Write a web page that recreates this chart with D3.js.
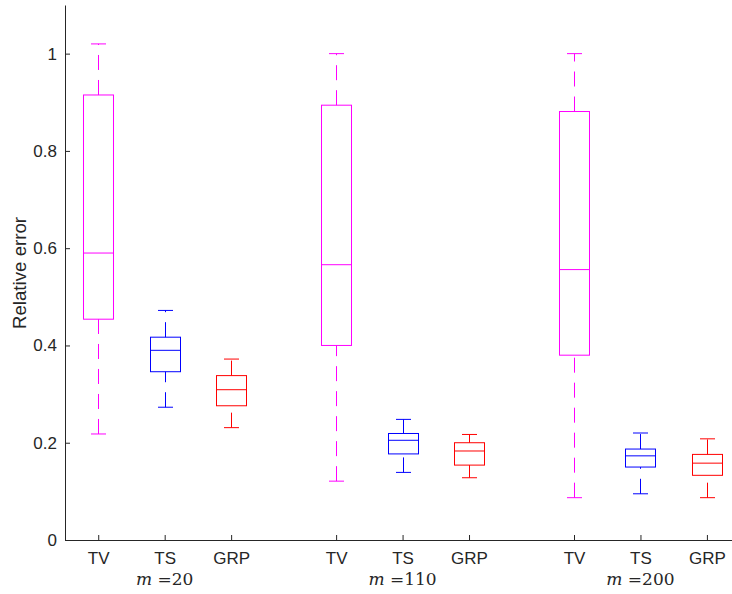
<!DOCTYPE html>
<html>
<head>
<meta charset="utf-8">
<script src="https://cdn.jsdelivr.net/npm/d3@7"></script>
<style>
  html, body { margin: 0; padding: 0; background: #fff; }
  svg { display: block; }
</style>
</head>
<body>
<svg id="chart" width="732" height="594"></svg>
<script>
// ---- data ----
const methods = ["TV", "TS", "GRP"];
const mValues = ["20", "110", "200"];
const positions = [1, 2, 3, 4.58, 5.58, 6.58, 8.16, 9.16, 10.16];
const yTicks = [0, 0.2, 0.4, 0.6, 0.8, 1];

// per method, one value per group (m = 20, 110, 200)
const tvLow  = [0.218, 0.121, 0.087];
const tvQ1   = [0.454, 0.400, 0.380];
const tvMed  = [0.590, 0.566, 0.556];
const tvQ3   = [0.915, 0.894, 0.881];
const tvHigh = [1.020, 1.000, 1.000];

const tsLow  = [0.273, 0.139, 0.095];
const tsQ1   = [0.346, 0.177, 0.150];
const tsMed  = [0.390, 0.205, 0.173];
const tsQ3   = [0.417, 0.219, 0.187];
const tsHigh = [0.472, 0.248, 0.220];

const grpLow  = [0.231, 0.128, 0.087];
const grpQ1   = [0.276, 0.154, 0.133];
const grpMed  = [0.309, 0.183, 0.158];
const grpQ3   = [0.338, 0.200, 0.176];
const grpHigh = [0.372, 0.217, 0.208];

const colors = { TV: "#ff00ff", TS: "#0000ff", GRP: "#ff0000" };

// build table
const series = {
  TV:  { low: tvLow,  q1: tvQ1,  med: tvMed,  q3: tvQ3,  high: tvHigh },
  TS:  { low: tsLow,  q1: tsQ1,  med: tsMed,  q3: tsQ3,  high: tsHigh },
  GRP: { low: grpLow, q1: grpQ1, med: grpMed, q3: grpQ3, high: grpHigh }
};
const boxes = [];
mValues.forEach((m, g) => {
  methods.forEach((k, j) => {
    const s = series[k];
    boxes.push({ method: k, group: g, pos: positions[g * 3 + j],
      low: s.low[g], q1: s.q1[g], med: s.med[g], q3: s.q3[g], high: s.high[g] });
  });
});

// ---- layout ----
const svg = d3.select("#chart");
const mLeft = 65, mBottom = 540, mTop = 5;
const x = d3.scaleLinear().domain([0.5, 11]).range([mLeft, mLeft + 10.5 * 66.45]);
const y = d3.scaleLinear().domain([0, 1.1]).range([mBottom, mTop]);
const axisColor = "#262626";
const tickFont = "'Liberation Sans', Arial, Helvetica, sans-serif";

svg.append("rect").attr("width", 732).attr("height", 594).attr("fill", "#fff");

// y axis
const yAxis = svg.append("g").attr("transform", `translate(${mLeft},0)`)
  .call(d3.axisLeft(y).tickValues(yTicks).tickFormat(d3.format("~g")).tickSizeInner(-5).tickSizeOuter(0).tickPadding(8));
yAxis.select(".domain").attr("stroke", axisColor).attr("stroke-width", 1);
yAxis.selectAll(".tick line").attr("stroke", axisColor);
yAxis.selectAll(".tick text").attr("fill", "#262626").attr("font-size", 17).attr("font-family", tickFont);

// x axis
const xAxis = svg.append("g").attr("transform", `translate(0,${mBottom})`)
  .call(d3.axisBottom(x).tickValues(positions).tickFormat((d, i) => methods[i % 3]).tickSizeInner(-5).tickSizeOuter(0).tickPadding(12));
xAxis.select(".domain").attr("stroke", axisColor).attr("stroke-width", 1);
xAxis.selectAll(".tick line").attr("stroke", axisColor);
xAxis.selectAll(".tick text").attr("fill", "#262626").attr("font-size", 17).attr("font-family", tickFont);

// y label
svg.append("text")
  .attr("transform", `translate(26,273) rotate(-90)`)
  .attr("text-anchor", "middle")
  .attr("font-family", tickFont).attr("font-size", 18.7).attr("fill", "#262626")
  .text("Relative error");

// group labels
mValues.forEach((m, g) => {
  const t = svg.append("text")
    .attr("x", x(positions[g * 3 + 1])).attr("y", 585)
    .attr("text-anchor", "middle")
    .attr("font-family", "'DejaVu Serif', 'Liberation Serif', serif")
    .attr("font-size", 17).attr("fill", "#262626");
  t.append("tspan").attr("font-style", "italic").text("m");
  t.append("tspan").text(" =" + m);
});

// boxes
const halfBox = 15, halfCap = 7.5;
const bx = svg.append("g").attr("fill", "none").attr("stroke-width", 1);
boxes.forEach(b => {
  const c = colors[b.method];
  const cx = Math.round(x(b.pos)) + 0.5;
  const g = bx.append("g").attr("stroke", c);
  // upper whisker q3 -> high
  g.append("line").attr("x1", cx).attr("x2", cx).attr("y1", y(b.q3)).attr("y2", y(b.high))
    .attr("stroke-dasharray", "15,10");
  // lower whisker low -> q1
  g.append("line").attr("x1", cx).attr("x2", cx).attr("y1", y(b.low)).attr("y2", y(b.q1))
    .attr("stroke-dasharray", "15,10");
  // caps
  [b.low, b.high].forEach(v => {
    g.append("line").attr("x1", cx - halfCap).attr("x2", cx + halfCap)
      .attr("y1", y(v)).attr("y2", y(v));
  });
  // box
  g.append("rect").attr("x", cx - halfBox).attr("width", 2 * halfBox)
    .attr("y", y(b.q3)).attr("height", y(b.q1) - y(b.q3));
  // median
  g.append("line").attr("x1", cx - halfBox).attr("x2", cx + halfBox)
    .attr("y1", y(b.med)).attr("y2", y(b.med));
});
</script>
</body>
</html>
